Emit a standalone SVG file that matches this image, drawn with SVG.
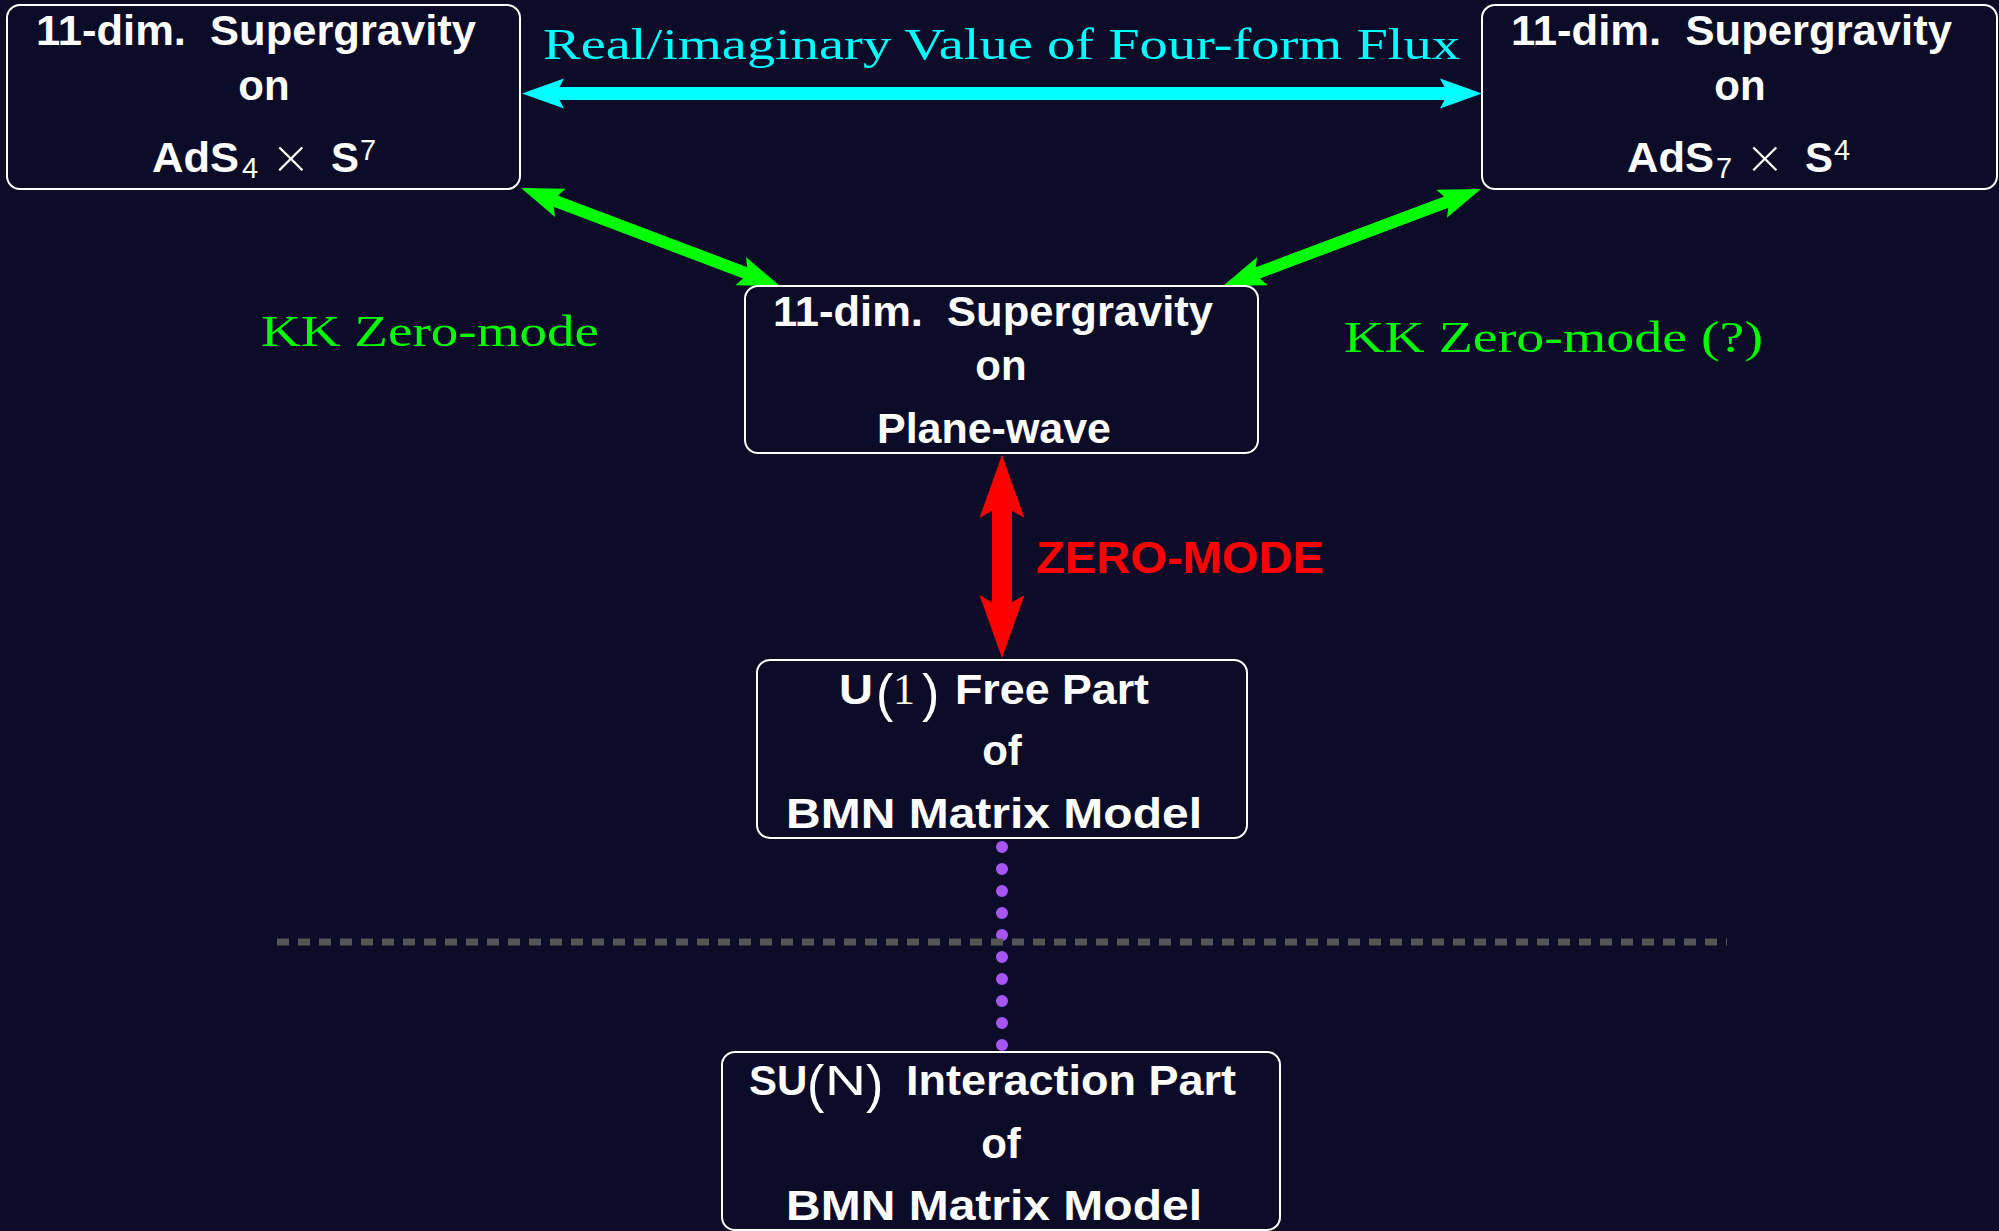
<svg xmlns="http://www.w3.org/2000/svg" width="1999" height="1231" viewBox="0 0 1999 1231">
  <style>
    .bg { fill: #0c0c28; }
    .box { fill: #0c0c28; stroke: #ffffff; stroke-width: 2; }
    .nt { font-family: "Liberation Sans", Arial, sans-serif; font-weight: bold; font-size: 42px; fill: #ffffff; }
    .thin { font-family: "Liberation Sans", Arial, sans-serif; font-weight: normal; }
    .num { font-family: "Liberation Serif", "Times New Roman", serif; font-weight: normal; font-size: 44px; }
    .paren { font-family: "Liberation Sans", Arial, sans-serif; font-weight: normal; font-size: 52px; }
    .idx { font-weight: normal; font-size: 29px; }
    .times { font-family: Lato, "DejaVu Sans", sans-serif; font-weight: 300; font-size: 58px; }
    .lbl-serif { font-family: "Liberation Serif", "Times New Roman", serif; font-size: 44px; }
    .cyan { fill: #00ffff; }
    .green { fill: #00ff00; }
    .red { fill: #ff0000; }
    .zero { font-family: "Liberation Sans", Arial, sans-serif; font-weight: bold; font-size: 44px; }
  </style>
  <defs>
    <marker id="headCyan" markerUnits="userSpaceOnUse" orient="auto-start-reverse" refX="0" refY="0" markerWidth="1" markerHeight="1" overflow="visible">
      <path d="M30,0 L-12,-15 L-4,0 L-12,15 Z" fill="#00ffff"/>
    </marker>
    <marker id="headGreen" markerUnits="userSpaceOnUse" orient="auto-start-reverse" refX="0" refY="0" markerWidth="1" markerHeight="1" overflow="visible">
      <path d="M30,0 L-12,-15 L-4,0 L-12,15 Z" fill="#00ff00"/>
    </marker>
    <marker id="headRed" markerUnits="userSpaceOnUse" orient="auto-start-reverse" refX="0" refY="0" markerWidth="1" markerHeight="1" overflow="visible">
      <path d="M45,0 L-18,-22.5 L-5,0 L-18,22.5 Z" fill="#ff0000"/>
    </marker>
  </defs>

  <rect class="bg" x="0" y="0" width="1999" height="1231"/>

  <!-- connectors -->
  <g id="connectors">
    <path id="flux" d="M552,93.5 L1452,93.5" stroke="#00ffff" stroke-width="13" fill="none" marker-start="url(#headCyan)" marker-end="url(#headCyan)"/>
    <path id="kk-left" d="M549.1,198.6 L751.9,275.4" stroke="#00ff00" stroke-width="12" fill="none" marker-start="url(#headGreen)" marker-end="url(#headGreen)"/>
    <path id="kk-right" d="M1251.1,275.4 L1452.9,199.6" stroke="#00ff00" stroke-width="12" fill="none" marker-start="url(#headGreen)" marker-end="url(#headGreen)"/>
    <path id="zero-mode" d="M1002,500 L1002,613" stroke="#ff0000" stroke-width="20" fill="none" marker-start="url(#headRed)" marker-end="url(#headRed)"/>
    <path id="u1-sun" d="M1002,847 L1002,1046" stroke="#a855f7" stroke-width="12" stroke-linecap="round" stroke-dasharray="0 22" fill="none"/>
  </g>

  <!-- separator between free and interacting sectors -->
  <line id="separator" x1="277" y1="942" x2="1727" y2="942" stroke="#555555" stroke-width="7" stroke-dasharray="12 9"/>

  <!-- edge labels -->
  <g id="labels">
    <text class="lbl-serif cyan" x="543" y="59" textLength="917" lengthAdjust="spacingAndGlyphs">Real/imaginary Value of Four-form Flux</text>
    <text class="lbl-serif green" x="261" y="346" textLength="338" lengthAdjust="spacingAndGlyphs">KK Zero-mode</text>
    <text class="lbl-serif green" x="1344" y="352" textLength="419" lengthAdjust="spacingAndGlyphs">KK Zero-mode (?)</text>
    <text class="zero red" x="1036" y="573" textLength="288" lengthAdjust="spacingAndGlyphs">ZERO-MODE</text>
  </g>

  <!-- nodes -->
  <g id="sugra-ads4">
    <rect class="box" x="7" y="5" width="513" height="184" rx="13" ry="13"/>
    <text class="nt" x="36" y="45" textLength="440" lengthAdjust="spacingAndGlyphs">11-dim.&#160; Supergravity</text>
    <text class="nt" x="264" y="100" text-anchor="middle">on</text>
    <text class="nt" y="172">
      <tspan x="152" textLength="87" lengthAdjust="spacingAndGlyphs">AdS</tspan><tspan x="242" y="178" class="idx">4</tspan><tspan x="274" y="178" class="times">×</tspan><tspan x="331" y="172">S</tspan><tspan x="360" y="160" class="idx">7</tspan>
    </text>
  </g>

  <g id="sugra-ads7">
    <rect class="box" x="1482" y="5" width="515" height="184" rx="13" ry="13"/>
    <text class="nt" x="1511" y="45" textLength="441" lengthAdjust="spacingAndGlyphs">11-dim.&#160; Supergravity</text>
    <text class="nt" x="1740" y="100" text-anchor="middle">on</text>
    <text class="nt" y="172">
      <tspan x="1627" textLength="87" lengthAdjust="spacingAndGlyphs">AdS</tspan><tspan x="1716" y="178" class="idx">7</tspan><tspan x="1748" y="178" class="times">×</tspan><tspan x="1805" y="172">S</tspan><tspan x="1834" y="160" class="idx">4</tspan>
    </text>
  </g>

  <g id="sugra-pp">
    <rect class="box" x="745" y="286" width="513" height="167" rx="13" ry="13"/>
    <text class="nt" x="773" y="326" textLength="440" lengthAdjust="spacingAndGlyphs">11-dim.&#160; Supergravity</text>
    <text class="nt" x="1001" y="380" text-anchor="middle">on</text>
    <text class="nt" x="877" y="443" textLength="234" lengthAdjust="spacingAndGlyphs">Plane-wave</text>
  </g>

  <g id="bmn-u1">
    <rect class="box" x="757" y="660" width="490" height="178" rx="13" ry="13"/>
    <text class="nt" y="704">
      <tspan x="839" textLength="34" lengthAdjust="spacingAndGlyphs">U</tspan><tspan x="876" y="711" class="paren">(</tspan><tspan x="893" y="704" class="num">1</tspan><tspan x="922" y="711" class="paren">)</tspan><tspan x="955" y="704" textLength="194" lengthAdjust="spacingAndGlyphs">Free Part</tspan>
    </text>
    <text class="nt" x="1002" y="765" text-anchor="middle">of</text>
    <text class="nt" x="786" y="828" textLength="416" lengthAdjust="spacingAndGlyphs">BMN Matrix Model</text>
  </g>

  <g id="bmn-sun">
    <rect class="box" x="722" y="1052" width="558" height="178" rx="13" ry="13"/>
    <text class="nt" y="1095">
      <tspan x="749">SU</tspan><tspan x="807" y="1102" class="paren">(</tspan><tspan x="825" y="1095" class="thin" textLength="41" lengthAdjust="spacingAndGlyphs">N</tspan><tspan x="866" y="1102" class="paren">)</tspan><tspan x="906" y="1095" textLength="330" lengthAdjust="spacingAndGlyphs">Interaction Part</tspan>
    </text>
    <text class="nt" x="1001" y="1158" text-anchor="middle">of</text>
    <text class="nt" x="786" y="1220" textLength="416" lengthAdjust="spacingAndGlyphs">BMN Matrix Model</text>
  </g>
</svg>
